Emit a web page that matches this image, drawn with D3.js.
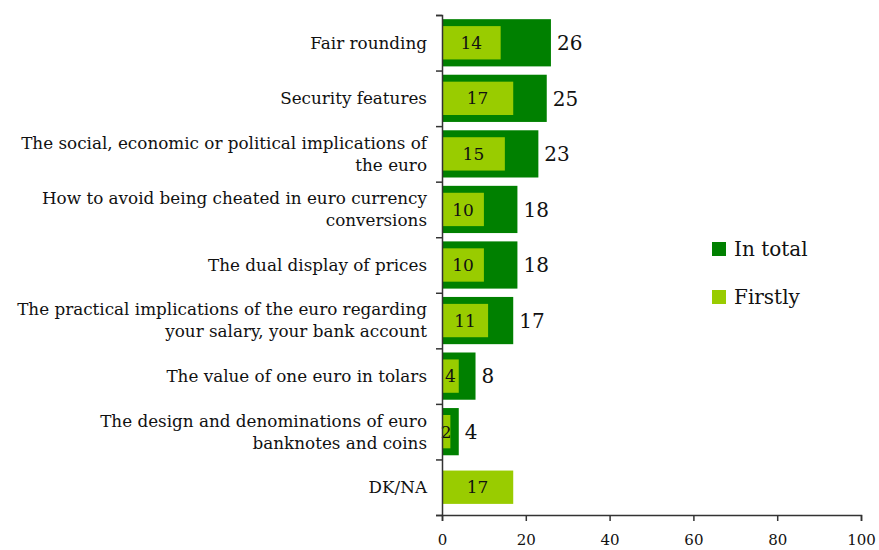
<!DOCTYPE html>
<html>
<head>
<meta charset="utf-8">
<script src="https://cdn.jsdelivr.net/npm/d3@7"></script>
<style>
  html, body { margin: 0; padding: 0; background: #fff; }
  svg { display: block; }
  text { font-family: "DejaVu Serif", Georgia, serif; fill: #111; }
</style>
</head>
<body>
<svg id="chart" width="879" height="550"></svg>
<script>
// Topics people want information about (%), two answers per topic
const categories = [
  ["Fair rounding"],
  ["Security features"],
  ["The social, economic or political implications of", "the euro"],
  ["How to avoid being cheated in euro currency", "conversions"],
  ["The dual display of prices"],
  ["The practical implications of the euro regarding", "your salary, your bank account"],
  ["The value of one euro in tolars"],
  ["The design and denominations of euro", "banknotes and coins"],
  ["DK/NA"]
];
const inTotal = [26, 25, 23, 18, 18, 17, 8, 4, null];
const firstly = [14, 17, 15, 10, 10, 11, 4, 2, 17];
const xTicks = [0, 20, 40, 60, 80, 100];
const seriesNames = ["In total", "Firstly"];
const colors = ["#008000", "#99cc00"];

const svg = d3.select("#chart");
const plot = { left: 442, right: 861, top: 15, bottom: 515 };

const x = d3.scaleLinear().domain([0, 100]).range([plot.left, plot.right]);
const idx = d3.range(categories.length);
const y = d3.scaleBand().domain(idx).range([plot.top, plot.bottom])
  .paddingInner(0.15).paddingOuter(0.075);
const yEdge = d3.scaleLinear().domain([0, categories.length]).range([plot.top, plot.bottom]);
const step = y.step();
const innerH = step * 0.6;

// Outer bars: total mentions
svg.append("g").selectAll("rect")
  .data(idx.filter(i => inTotal[i] != null))
  .join("rect")
  .attr("x", x(0))
  .attr("y", i => y(i))
  .attr("width", i => x(inTotal[i]) - x(0))
  .attr("height", y.bandwidth())
  .attr("fill", colors[0]);

// Inner bars: first mention
svg.append("g").selectAll("rect")
  .data(idx)
  .join("rect")
  .attr("x", x(0))
  .attr("y", i => y(i) + y.bandwidth() / 2 - innerH / 2)
  .attr("width", i => x(firstly[i]) - x(0))
  .attr("height", innerH)
  .attr("fill", colors[1]);

// Value labels
svg.append("g").selectAll("text")
  .data(idx.filter(i => inTotal[i] != null))
  .join("text")
  .attr("x", i => x(inTotal[i]) + 6)
  .attr("y", i => y(i) + y.bandwidth() / 2)
  .attr("dy", "0.36em")
  .attr("font-size", 20)
  .text(i => inTotal[i]);

svg.append("g").selectAll("text")
  .data(idx)
  .join("text")
  .attr("x", i => (x(0) + x(firstly[i])) / 2)
  .attr("y", i => y(i) + y.bandwidth() / 2)
  .attr("dy", "0.36em")
  .attr("text-anchor", "middle")
  .attr("font-size", 17)
  .text(i => firstly[i]);

// Category axis (ticks at band edges)
const yAxis = svg.append("g")
  .attr("transform", `translate(${plot.left},0)`)
  .call(d3.axisLeft(yEdge).ticks(categories.length).tickSize(6).tickFormat(""));
yAxis.select(".domain").attr("stroke", "#333").attr("stroke-width", 1.5);
yAxis.selectAll(".tick line").attr("stroke", "#333").attr("stroke-width", 1.5);

// Category labels
const lineH = 22;
svg.append("g").selectAll("text")
  .data(idx)
  .join("text")
  .attr("text-anchor", "end")
  .attr("font-size", 16.8)
  .attr("transform", i => `translate(427,${y(i) + y.bandwidth() / 2})`)
  .each(function(i) {
    const lines = categories[i];
    const t = d3.select(this);
    lines.forEach((s, k) => {
      t.append("tspan")
        .attr("x", 0)
        .attr("y", (k - (lines.length - 1) / 2) * lineH)
        .attr("dy", "0.35em")
        .text(s);
    });
  });

// Value axis
const xAxis = svg.append("g")
  .attr("transform", `translate(0,${plot.bottom})`)
  .call(d3.axisBottom(x).tickValues(xTicks).tickSize(6).tickPadding(24));
xAxis.select(".domain").attr("stroke", "#333").attr("stroke-width", 1.5);
xAxis.selectAll(".tick line").attr("stroke", "#333").attr("stroke-width", 1.5);
xAxis.selectAll(".tick text").attr("font-size", 15)
  .attr("font-family", '"DejaVu Serif", Georgia, serif').attr("fill", "#111").attr("dy", "0");

// Legend
const legend = svg.append("g").selectAll("g")
  .data(seriesNames)
  .join("g")
  .attr("transform", (d, k) => `translate(712,${242 + k * 48})`);
legend.append("rect").attr("width", 14).attr("height", 14).attr("fill", (d, k) => colors[k]);
legend.append("text").attr("x", 22).attr("y", 7).attr("dy", "0.36em")
  .attr("font-size", 20).text(d => d);
</script>
</body>
</html>
